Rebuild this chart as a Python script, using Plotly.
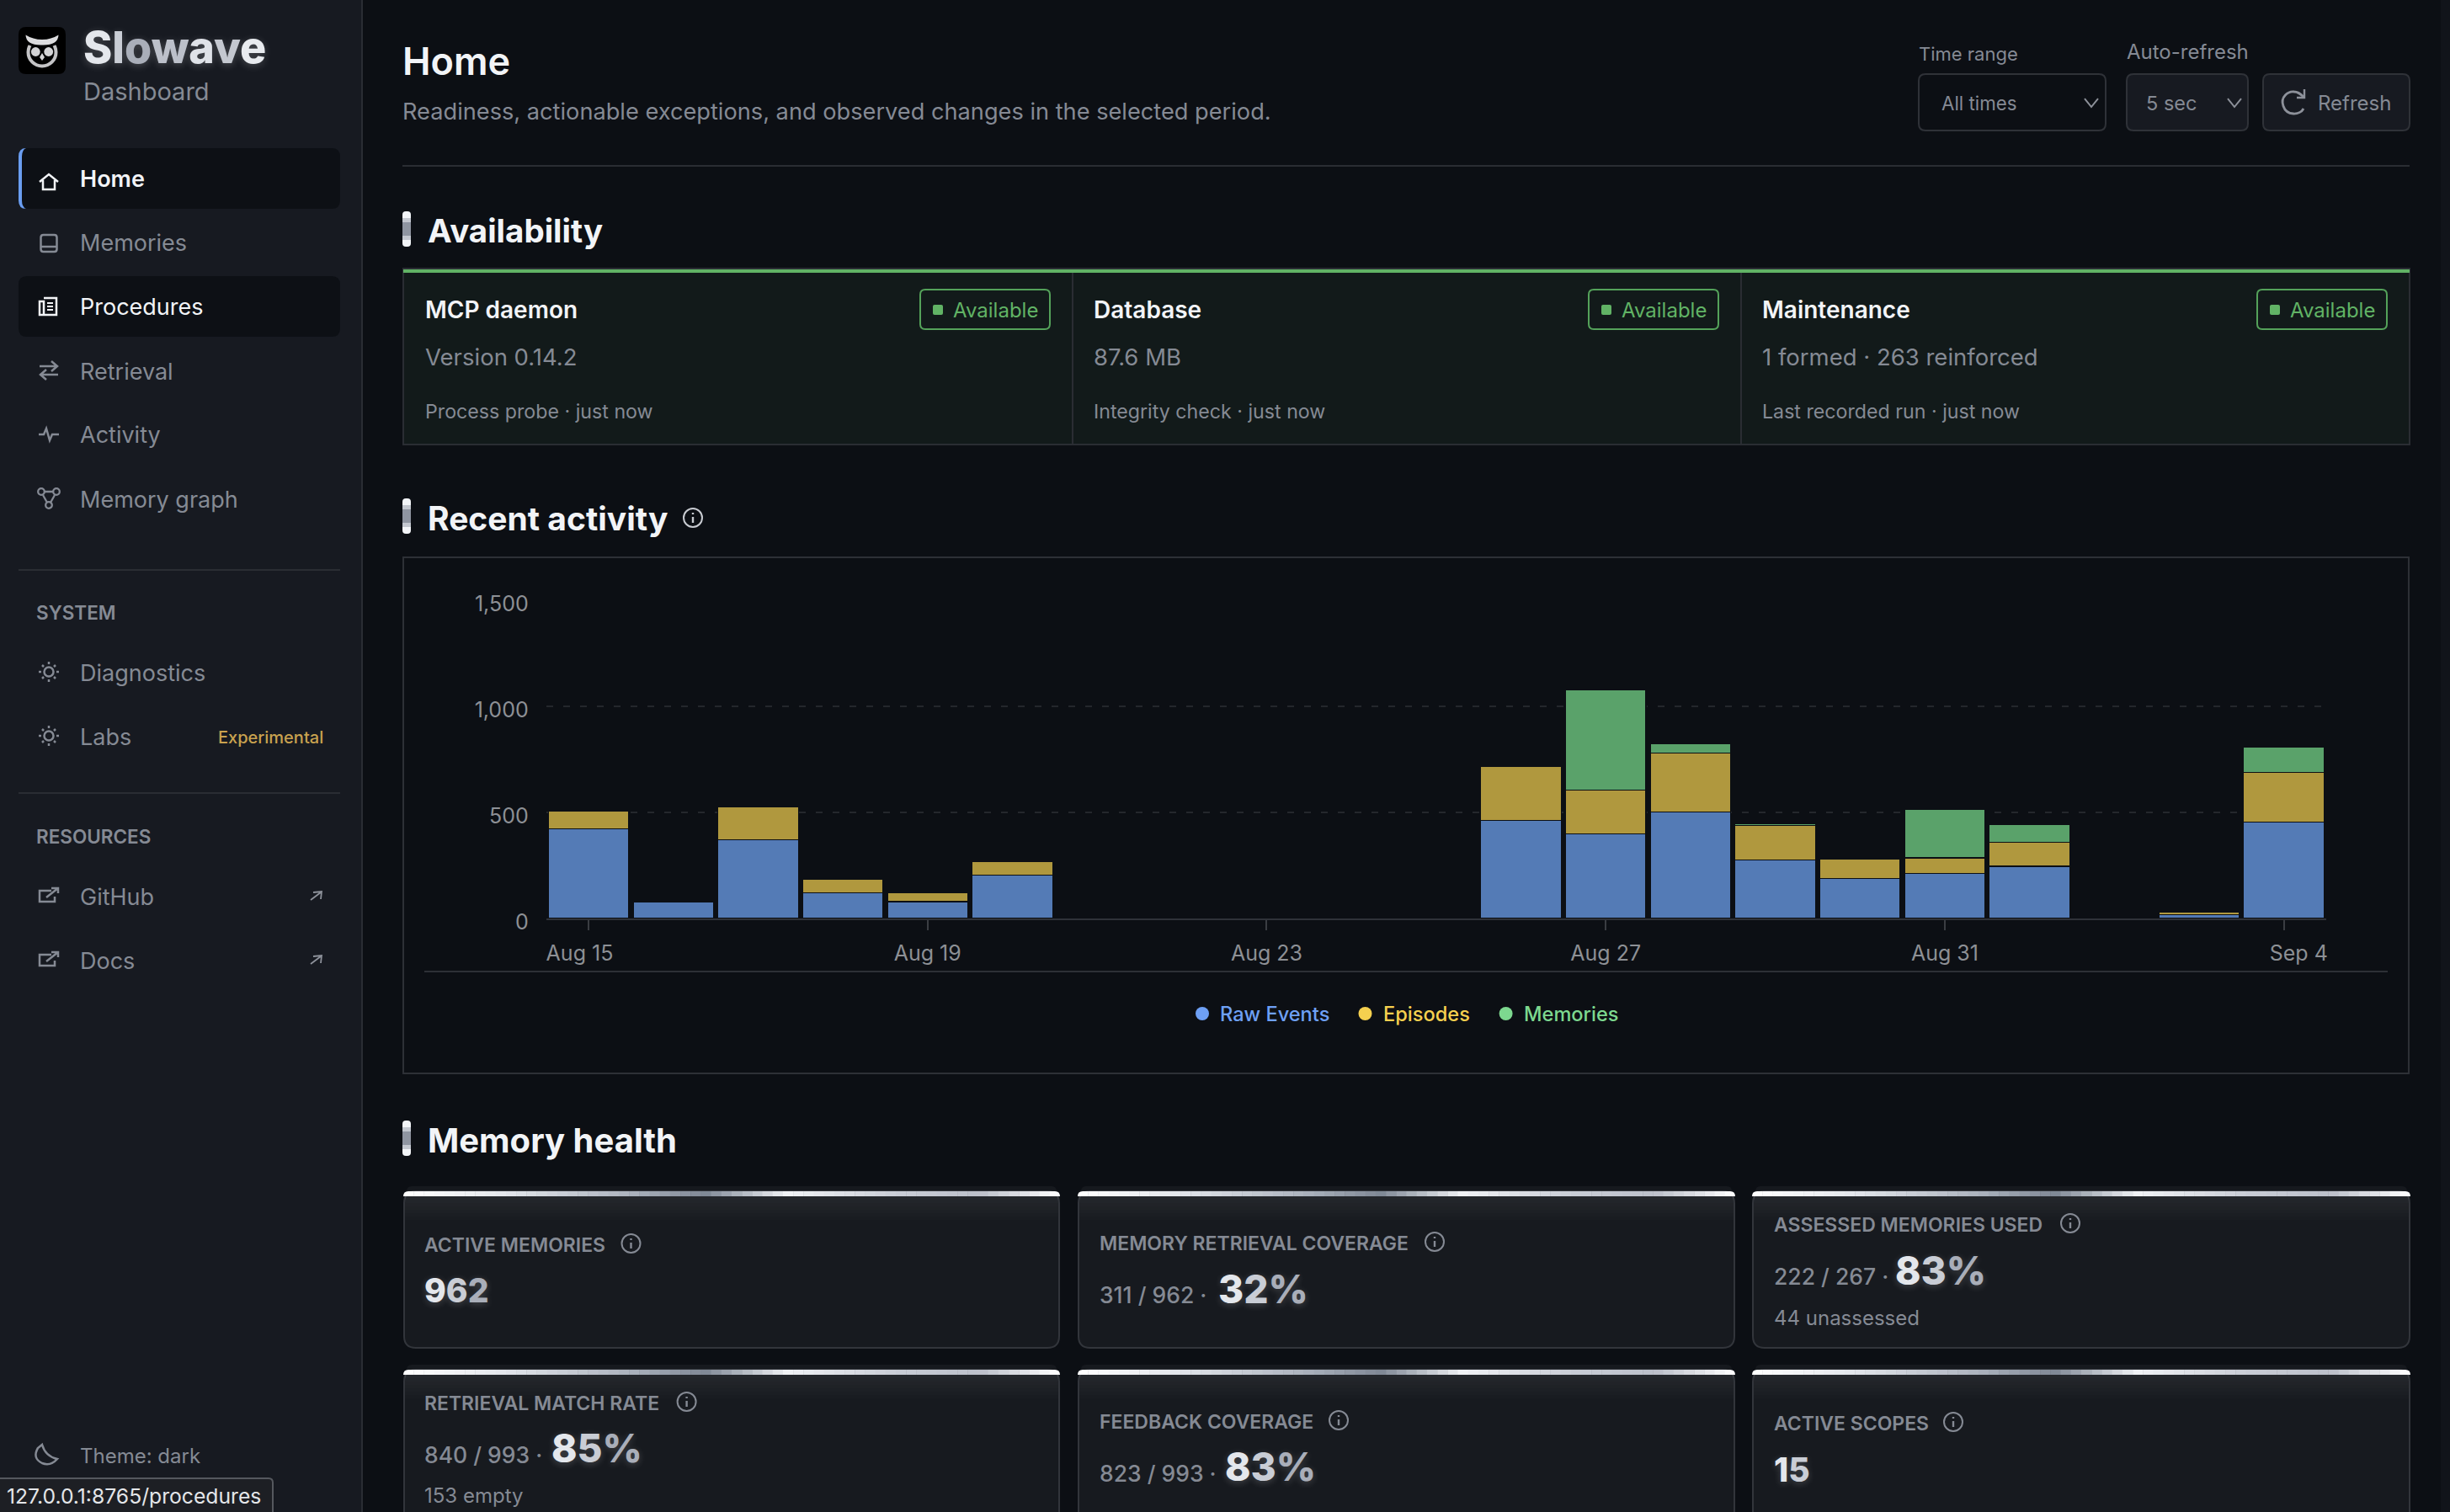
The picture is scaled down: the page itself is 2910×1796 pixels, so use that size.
import re
import plotly.graph_objects as go

W, H = 2910, 1796
FONT = "Inter"

# chart data
DAYS = ["Aug 15", "Aug 16", "Aug 17", "Aug 18", "Aug 19", "Aug 20", "Aug 21",
        "Aug 22", "Aug 23", "Aug 24", "Aug 25", "Aug 26", "Aug 27", "Aug 28",
        "Aug 29", "Aug 30", "Aug 31", "Sep 1", "Sep 2", "Sep 3", "Sep 4"]
RAW_EVENTS = [422, 78, 370, 120, 79, 204, 0, 0, 0, 0, 0, 463, 398, 503, 275, 188, 212, 246, 0, 18, 455]
EPISODES = [83, 3, 157, 64, 44, 66, 0, 0, 0, 0, 0, 252, 207, 277, 162, 92, 74, 113, 0, 11, 233]
MEMORIES = [0, 0, 0, 0, 0, 0, 0, 0, 0, 0, 0, 0, 471, 42, 8, 3, 229, 83, 0, 0, 121]
TICK_DAYS = ["Aug 15", "Aug 19", "Aug 23", "Aug 27", "Aug 31", "Sep 4"]
Y_TICKS = [0, 500, 1000, 1500]

SERIES_NAMES = ["Raw Events", "Episodes", "Memories"]
BAR_COLORS = ["#547bb6", "#b0983e", "#5aa26a"]
LEGEND_COLORS = ["#6ea0f5", "#f5d04f", "#7dd88f"]

BG = "#0c0f14"
SIDE = "#171a21"
LINE = "#2a2d33"
MUTED = "#858a94"
WHITE = "#f2f4f7"

shapes = []
annotations = []


def px(x):
    return x / W


def py(y):
    return 1 - y / H


def conv(d):
    # pixel path to paper path, absolute commands only
    out = []
    is_x = True
    for t in d.split():
        if re.match(r"^[A-Za-z]$", t):
            out.append(t)
            is_x = True
        else:
            out.append(f"{px(float(t)):.6f}" if is_x else f"{py(float(t)):.6f}")
            is_x = not is_x
    return " ".join(out)


def path(d, fill=None, line=None, width=0):
    shapes.append(dict(type="path", path=conv(d), xref="paper", yref="paper", layer="below",
                       fillcolor=fill or "rgba(0,0,0,0)",
                       line=dict(color=line or "rgba(0,0,0,0)", width=width)))


def rect(x0, y0, x1, y1, fill=None, line=None, width=0):
    shapes.append(dict(type="rect", x0=px(x0), x1=px(x1), y0=py(y1), y1=py(y0), xref="paper", yref="paper",
                       layer="below", fillcolor=fill or "rgba(0,0,0,0)",
                       line=dict(color=line or "rgba(0,0,0,0)", width=width)))


def rrect(x0, y0, x1, y1, r, fill=None, line=None, width=0):
    d = (f"M {x0+r} {y0} L {x1-r} {y0} Q {x1} {y0} {x1} {y0+r} L {x1} {y1-r} Q {x1} {y1} {x1-r} {y1} "
         f"L {x0+r} {y1} Q {x0} {y1} {x0} {y1-r} L {x0} {y0+r} Q {x0} {y0} {x0+r} {y0} Z")
    path(d, fill, line, width)


def circle(cx, cy, r, fill=None, line=None, width=0, ry=None):
    ry = ry or r
    shapes.append(dict(type="circle", x0=px(cx-r), x1=px(cx+r), y0=py(cy+ry), y1=py(cy-ry), xref="paper", yref="paper",
                       layer="below", fillcolor=fill or "rgba(0,0,0,0)",
                       line=dict(color=line or "rgba(0,0,0,0)", width=width)))


def text(x, y, s, size, color=MUTED, weight=400, anchor="left", shadow=None):
    font = dict(family=FONT, size=size, color=color, weight=weight)
    if shadow:
        font["shadow"] = shadow
    annotations.append(dict(x=px(x), y=py(y), xref="paper", yref="paper", text=s, showarrow=False,
                            xanchor=anchor, yanchor="middle", borderpad=0, borderwidth=0, font=font))


def metal(s):
    ramp = ["#e4e7ec", "#c9cdd5", "#a9aeb9", "#bcc0ca", "#dfe2e8", "#c4c8d0", "#e8ebef"]
    return "".join(f'<span style="color:{ramp[i % len(ramp)]}">{c}</span>' for i, c in enumerate(s))


def hex_mix(a, b, t):
    ca = [int(a[i:i+2], 16) for i in (1, 3, 5)]
    cb = [int(b[i:i+2], 16) for i in (1, 3, 5)]
    return "#" + "".join(f"{round(p + (q - p) * t):02x}" for p, q in zip(ca, cb))


def gradient_bar(x0, x1, y0, y1):
    stops = [(0, "#ffffff"), (0.15, "#e4e7ec"), (0.35, "#aab1bc"), (0.46, "#7f8895"), (0.585, "#f0f2f5"),
             (0.75, "#c9cdd6"), (0.88, "#bcc0ca"), (1, "#ffffff")]
    n = 64
    r = 6
    for i in range(n):
        t = (i + 0.5) / n
        xa = x0 + (x1-x0)*i/n
        xb = x0 + (x1-x0)*(i+1)/n
        for (s0, c0), (s1, c1) in zip(stops, stops[1:]):
            if s0 <= t <= s1:
                c = hex_mix(c0, c1, (t-s0)/(s1-s0))
                if i == 0:
                    path(f"M {xa} {y1} Q {xa} {y0} {xa+r} {y0} L {xb+0.5} {y0} L {xb+0.5} {y1} Z", fill=c)
                elif i == n - 1:
                    path(f"M {xa} {y0} L {xb-r} {y0} Q {xb} {y0} {xb} {y1} L {xa} {y1} Z", fill=c)
                else:
                    rect(xa, y0, xb + 0.5, y1, fill=c)
                break


def heading(y, s, size=39.5, text_dy=2):
    rrect(478, y-21, 488, y+21, 4, fill="#f2f4f7")
    rect(478, y-8, 488, y+8, fill="#8f95a1")
    rect(478, y-13, 488, y-8, fill="#c3c7cf")
    rect(478, y+8, 488, y+13, fill="#c3c7cf")
    text(508, y + text_dy, s, size, WHITE, 700)


def info(cx, cy, color=MUTED):
    circle(cx, cy, 11, line=color, width=2)
    path(f"M {cx} {cy-1} L {cx} {cy+6}", line=color, width=2.4)
    path(f"M {cx} {cy-6} L {cx} {cy-4}", line=color, width=2.4)


def chevron(cx, cy):
    path(f"M {cx-8} {cy-5} L {cx} {cy+5} L {cx+8} {cy-5}", line="#8d919a", width=2)


def sun(cx, cy):
    circle(cx, cy, 5.5, line=MUTED, width=2.5)
    for dx, dy in [(-12, 0), (12, 0), (0, -12), (0, 12), (-8, -8), (8, -8), (-8, 8), (8, 8)]:
        path(f"M {cx+dx} {cy+dy} L {cx+dx*0.75} {cy+dy*0.75}", line=MUTED, width=2.5)


def external(cx, cy):
    path(f"M {cx+3} {cy-6} L {cx-11} {cy-6} L {cx-11} {cy+7} L {cx+7} {cy+7} L {cx+7} {cy+1}", line=MUTED, width=2.5)
    path(f"M {cx-3} {cy+2} L {cx+11} {cy-9} M {cx+3} {cy-9} L {cx+11} {cy-9} L {cx+11} {cy-3}", line=MUTED, width=2.5)


def up_right(cx, cy):
    path(f"M {cx-6} {cy+5} L {cx+6} {cy-4} M {cx-3} {cy-4} L {cx+7} {cy-5} L {cx+6} {cy+4}", line="#8d919a", width=1.8)


# page and sidebar
rect(0, 0, 429, H, fill=SIDE)
rect(429, 0, 431, H, fill=LINE)
rect(2899, 0, W, H, fill="#11141a")

# logo
rrect(22, 32, 78, 88, 9, fill="#000000")
circle(50, 62, 16.5, line="#c4c4c6", width=4)
path("M 28 40 L 72 40 L 72 50 Q 62 57 50 57 Q 38 57 28 50 Z", fill="#000000")
path("M 30.5 41.5 Q 39 47 50 47 Q 61 47 69.5 41.5 Q 69 54 50 53.5 Q 31 54 30.5 41.5 Z", fill="#dcdcde")
circle(42.3, 61.5, 5.4, fill="#d4d4d6")
circle(57.7, 61.5, 5.4, fill="#d4d4d6")
path("M 50 63 L 53 68 L 50 72 L 47 68 Z", fill="#d4d4d6")

text(99, 57, metal("Slowave"), 52, "#c9cdd5", 800, shadow="0 2px 10px rgba(255,255,255,0.22)")
text(99, 108, "Dashboard", 29, MUTED)

# nav
rrect(22, 176, 404, 248, 10, fill="#0d1015")
path("M 31 176 Q 22 176 22 186 L 22 238 Q 22 248 31 248 Q 26 246 26 238 L 26 186 Q 26 178 31 176 Z", fill="#6a9df0")
rrect(22, 328, 404, 400, 10, fill="#0d1015")

NAV_ITEMS = [("Home", 212, WHITE, 600), ("Memories", 288, MUTED, 400), ("Procedures", 365, WHITE, 400),
             ("Retrieval", 441.5, MUTED, 400), ("Activity", 516, MUTED, 400), ("Memory graph", 593.5, MUTED, 400),
             ("Diagnostics", 799, MUTED, 400), ("Labs", 875.5, MUTED, 400), ("GitHub", 1065.5, MUTED, 400),
             ("Docs", 1141.5, MUTED, 400)]
for label, y, color, weight in NAV_ITEMS:
    text(95, y, label, 27, color, weight)

path("M 47 216 L 58 207 L 69 216 M 51 214 L 51 225 L 65 225 L 65 214", line=WHITE, width=2.5)
rrect(48.5, 279, 67.5, 299, 3, line=MUTED, width=2.5)
path("M 48.5 293 L 67.5 293", line=MUTED, width=2.5)
path("M 52 354 L 67 354 L 67 374 L 47 374 L 47 358 L 52 358 L 52 374", line=WHITE, width=2.5)
path("M 56 360 L 63 360 M 56 364 L 63 364 M 56 368 L 63 368", line=WHITE, width=2)
path("M 47 435 L 68 435 M 61 429 L 68 435 L 61 441", line=MUTED, width=2.5)
path("M 69 445 L 48 445 M 55 439 L 48 445 L 55 451", line=MUTED, width=2.5)
path("M 46 516 L 52 516 L 55 509 L 59 523 L 62 516 L 70 516", line=MUTED, width=2.5)
circle(49, 584, 3.8, line=MUTED, width=2.3)
circle(67, 584, 3.8, line=MUTED, width=2.3)
circle(58, 600, 3.8, line=MUTED, width=2.3)
path("M 53 584 L 63 584 M 51 588 L 56 597 M 65 588 L 60 597", line=MUTED, width=2.3)

rect(22, 676, 404, 678, fill=LINE)
text(43, 727, "SYSTEM", 22.5, MUTED, 600)
sun(58, 798)
sun(58, 874)
text(259, 875.5, "Experimental", 20, "#c9a24f", 500)
rect(22, 941, 404, 943, fill=LINE)
text(43, 993.5, "RESOURCES", 22.5, MUTED, 600)
external(58, 1064)
external(58, 1140)
up_right(375, 1064)
up_right(375, 1140)

path("M 50 1716 Q 54 1730 68 1733 Q 60 1742 50 1738 Q 38 1732 45 1720 Z", line=MUTED, width=2.5)
text(95, 1729.5, "Theme: dark", 24, MUTED)

rrect(-6, 1756, 324, 1802, 5, fill="#1d1f24", line="#55585e", width=2)
text(8, 1777, "127.0.0.1:8765/procedures", 24.7, "#e4e6e9")

# page header
text(478, 73, "Home", 45, WHITE, 600)
text(478, 132, "Readiness, actionable exceptions, and observed changes in the selected period.", 27.2, MUTED)
rect(478, 196, 2862, 198, fill=LINE)

text(2279, 64, "Time range", 22, MUTED)
text(2526, 61.5, "Auto-refresh", 24, MUTED)
rrect(2279, 88, 2501, 155, 8, line="#2f3238", width=2)
text(2306, 122.5, "All times", 22.3, MUTED)
chevron(2484, 122)
rrect(2526, 88, 2670, 155, 8, fill=SIDE, line="#2f3238", width=2)
text(2549, 122.5, "5 sec", 23.5, MUTED)
chevron(2654, 122)
rrect(2688, 88, 2862, 155, 8, fill=SIDE, line="#2f3238", width=2)
path("M 2736 129 C 2732 137 2716 138 2712 126 C 2708 115 2718 108 2725 109 C 2730 109 2733 112 2736 115",
     line="#8d919a", width=2.8)
path("M 2737 106 L 2737 116 L 2728 116", line="#8d919a", width=2.4)
text(2753, 122.5, "Refresh", 24, MUTED)

# availability
heading(272, "Availability", 38.5)
rect(479, 319, 2862, 528, fill="#121a1a", line=LINE, width=2)
rect(479, 320, 2862, 324, fill="#61b365")
AVAILABILITY = [(505, "MCP daemon", "Version 0.14.2", "Process probe · just now", 1093),
                (1299, "Database", "87.6 MB", "Integrity check · just now", 1887),
                (2093, "Maintenance", "1 formed · 263 reinforced", "Last recorded run · just now", 2681)]
for x, title, value, foot, badge_x in AVAILABILITY:
    text(x, 368, title, 28, WHITE, 600)
    text(x, 424, value, 27.5, MUTED)
    text(x, 489, foot, 23.2, MUTED)
    rrect(badge_x, 344, badge_x + 154, 391, 6, line="#54a25a", width=2)
    rrect(badge_x + 15, 362, badge_x + 27, 374, 2, fill="#61b365")
    text(badge_x + 39, 368, "Available", 24, "#61b365")
rect(1273, 324, 1275, 528, fill=LINE)
rect(2067, 324, 2069, 528, fill=LINE)

# chart frame
heading(613, "Recent activity", 39)
info(823, 615, "#c8cbd1")
rect(479, 662, 2861, 1275, line="#2d3036", width=2)
rect(504, 1153, 2836, 1155, fill="#2d3036")
LEGEND_X = [1428, 1621.5, 1788.6]
for name, color, x in zip(SERIES_NAMES, LEGEND_COLORS, LEGEND_X):
    circle(x, 1204, 8, fill=color)
    text(x + 21, 1204, name, 23.6, color, 500)

# memory health
heading(1352, "Memory health", 40)
CARD_X = [(480, 1258), (1281, 2060), (2082, 2862)]
CARD_Y = [(1409, 1601), (1621, 1830)]
for y0, y1 in CARD_Y:
    for x0, x1 in CARD_X:
        rrect(x0 + 3, y0, x1 - 3, y0 + 12, 6, fill="#16191e")
        rrect(x0, y0 + 6, x1, y1, 14, fill="#171a1f", line="#32353b", width=2)
        for k in range(7):
            rect(x0 + 1, y0 + 12 + k * 4, x1 - 1, y0 + 16 + k * 4, fill=f"rgba(255,255,255,{0.06 - k * 0.008:.3f})")
        gradient_bar(x0 - 1, x1 + 1, y0 + 6, y0 + 12)

GLOW = "0 2px 8px rgba(255,255,255,0.2)"
CARD_TEXTS = [
    (504, "ACTIVE MEMORIES", 1478.5, 749.5, None, None, "962", 1532, None, None),
    (1306, "MEMORY RETRIEVAL COVERAGE", 1476.5, 1704, "311 / 962 ·", 1538, "32%", 1531, 1447, None),
    (2106.5, "ASSESSED MEMORIES USED", 1454.5, 2459, "222 / 267 ·", 1516, "83%", 1509, 2251, "44 unassessed"),
    (504, "RETRIEVAL MATCH RATE", 1666.5, 815.6, "840 / 993 ·", 1728, "85%", 1720, 654.5, "153 empty"),
    (1306, "FEEDBACK COVERAGE", 1688.5, 1590, "823 / 993 ·", 1750, "83%", 1742, 1455, None),
    (2106.5, "ACTIVE SCOPES", 1690.5, 2320, None, None, "15", 1745, None, None),
]
for x, label, label_y, info_x, ratio, ratio_y, big, big_y, big_x, note in CARD_TEXTS:
    text(x, label_y, label, 23, MUTED, 600)
    info(info_x, label_y - 1.5)
    if ratio:
        text(x, ratio_y, ratio, 26.5, MUTED, 500)
        text(big_x, big_y, metal(big), 46, "#d5d9e0", 800, shadow=GLOW)
    else:
        text(x, big_y, metal(big), 39, "#d5d9e0", 800, shadow=GLOW)
    if note:
        text(x, big_y + 56, note, 24, MUTED)

fig = go.Figure()
for name, values, color in zip(SERIES_NAMES, [RAW_EVENTS, EPISODES, MEMORIES], BAR_COLORS):
    fig.add_trace(go.Bar(name=name, x=DAYS, y=values, marker=dict(color=color, line=dict(color=BG, width=1.2))))

fig.update_layout(
    width=W, height=H,
    margin=dict(l=0, r=0, t=0, b=0, autoexpand=False),
    barmode="stack", bargap=0.05,
    showlegend=False,
    paper_bgcolor=BG, plot_bgcolor="rgba(0,0,0,0)",
    font=dict(family=FONT),
    shapes=shapes, annotations=annotations,
    xaxis=dict(domain=[px(648.7), px(2763)], type="category", categoryorder="array", categoryarray=DAYS,
               automargin=False, range=[-0.5, 20.5], tickmode="array", tickvals=TICK_DAYS,
               ticktext=["Aug 15\u00a0\u00a0\u00a0", "Aug 19", "Aug 23", "Aug 27", "Aug 31", "\u00a0\u00a0\u00a0\u00a0\u00a0Sep 4"],
               ticks="outside", ticklen=12, tickcolor="#3a3d42", tickwidth=2, ticklabelstandoff=6,
               tickfont=dict(family=FONT, size=25, color="#8d9095"),
               showline=True, linecolor="#2f3239", linewidth=2, showgrid=False, zeroline=False),
    yaxis=dict(domain=[py(1091), py(713)], range=[0, 1500], tickmode="array", tickvals=Y_TICKS,
               automargin=False, tickformat=",", ticks="", ticklabelstandoff=20, ticklabelshift=4,
               tickfont=dict(family=FONT, size=25, color="#8d9095"),
               showline=False, zeroline=False, showgrid=True,
               gridcolor="#24272c", gridwidth=2, griddash="8px,12px"),
)

fig.write_html("out.html", config=dict(displayModeBar=False),
               post_script="document.body.style.margin='0';document.body.style.overflow='hidden';")
